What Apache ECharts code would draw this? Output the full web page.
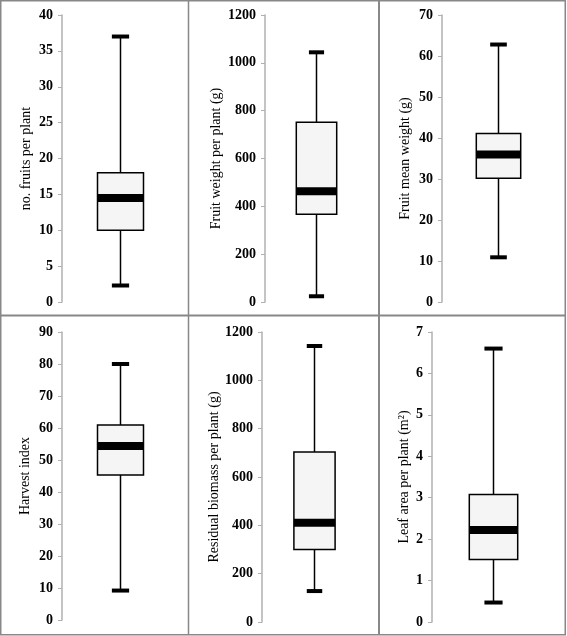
<!DOCTYPE html>
<html>
<head>
<meta charset="utf-8">
<script src="https://cdn.jsdelivr.net/npm/echarts@6/dist/echarts.min.js"></script>
<style>
html,body{margin:0;padding:0;background:#fff;}
#c{width:567px;height:636px;}
</style>
</head>
<body>
<div id="c"></div>
<script>
// Panel titles (y-axis names)
const titles = ["no. fruits per plant", "Fruit weight per plant (g)", "Fruit mean weight (g)",
                "Harvest index", "Residual biomass per plant (g)", "Leaf area per plant (m\u00B2)"];
// Box statistics: [min, Q1, median, Q3, max]
const fruitsPerPlant   = [2.3, 10, 14.5, 18, 37];
const fruitWeight      = [24, 367, 463, 752, 1044];
const fruitMeanWeight  = [10.9, 30.2, 36, 41.1, 62.8];
const harvestIndex     = [9.2, 45.3, 54.4, 60.9, 80];
const residualBiomass  = [128, 300, 411, 703, 1142];
const leafArea         = [0.47, 1.51, 2.22, 3.08, 6.6];
// Axis ranges: [max, interval]
const axisMax      = [40, 1200, 70, 90, 1200, 7];
const axisInterval = [5, 200, 10, 10, 200, 1];

const stats = [fruitsPerPlant, fruitWeight, fruitMeanWeight, harvestIndex, residualBiomass, leafArea];

const grids = [
  {left: 62,  top: 15,  width: 115, height: 287},
  {left: 265, top: 15,  width: 101, height: 287},
  {left: 442, top: 15,  width: 111, height: 287},
  {left: 62,  top: 332, width: 115, height: 288},
  {left: 262, top: 332, width: 103, height: 290},
  {left: 432, top: 332, width: 121, height: 290}
];
const nameGaps = [29, 42, 30, 30, 40, 21];
const serif = '"Liberation Serif", "Times New Roman", serif';

function renderBox(params, api) {
  const mn = api.coord([0, api.value(1)]);
  const q1 = api.coord([0, api.value(2)]);
  const md = api.coord([0, api.value(3)]);
  const q3 = api.coord([0, api.value(4)]);
  const mx = api.coord([0, api.value(5)]);
  const band = api.size([1, 0])[0];
  const cx = Math.round(mn[0]) + 0.5;
  const bw = band * 0.4;
  const cw = band * 0.15;
  const lineStyle = {stroke: '#000', lineWidth: 1.5, fill: null};
  return {
    type: 'group',
    children: [
      {type: 'line', shape: {x1: cx, y1: mx[1], x2: cx, y2: q3[1]}, style: lineStyle},
      {type: 'line', shape: {x1: cx, y1: q1[1], x2: cx, y2: mn[1]}, style: lineStyle},
      {type: 'rect', shape: {x: cx - bw / 2, y: q3[1], width: bw, height: q1[1] - q3[1]},
        style: {fill: '#f5f5f5', stroke: '#000', lineWidth: 1.5}},
      {type: 'rect', shape: {x: cx - bw / 2, y: md[1] - 4, width: bw, height: 8},
        style: {fill: '#000'}},
      {type: 'rect', shape: {x: cx - cw / 2, y: mx[1] - 2, width: cw, height: 4}, style: {fill: '#000'}},
      {type: 'rect', shape: {x: cx - cw / 2, y: mn[1] - 2, width: cw, height: 4}, style: {fill: '#000'}}
    ]
  };
}

const option = {
  animation: false,
  backgroundColor: '#fff',
  grid: grids.map(g => Object.assign({containLabel: false}, g)),
  xAxis: grids.map((g, i) => ({
    type: 'category', gridIndex: i, data: ['a'],
    axisLine: {show: false}, axisTick: {show: false}, axisLabel: {show: false}, splitLine: {show: false}
  })),
  yAxis: grids.map((g, i) => ({
    type: 'value', gridIndex: i, min: 0, max: axisMax[i], interval: axisInterval[i],
    name: titles[i], nameLocation: 'middle', nameGap: nameGaps[i],
    nameTextStyle: {fontFamily: serif, fontSize: 14, color: '#000'},
    axisLine: {show: true, lineStyle: {color: '#b0b0b0', width: 1.5}},
    axisTick: {show: true, length: 4, lineStyle: {color: '#b0b0b0'}},
    axisLabel: {fontFamily: serif, fontSize: 14, fontWeight: 'bold', color: '#000', margin: 9,
      formatter: v => String(v)},
    splitLine: {show: false}
  })),
  series: stats.map((s, i) => ({
    type: 'custom', xAxisIndex: i, yAxisIndex: i,
    renderItem: renderBox,
    encode: {x: 0, y: [1, 2, 3, 4, 5]},
    data: [[0].concat(s)]
  })),
  graphic: [
    {type: 'rect', shape: {x: 0.75, y: 0.75, width: 564.5, height: 634}, style: {fill: null, stroke: '#888', lineWidth: 1.5}, silent: true},
    {type: 'line', shape: {x1: 188.5, y1: 0, x2: 188.5, y2: 635}, style: {stroke: '#888', lineWidth: 1.5}, silent: true},
    {type: 'line', shape: {x1: 379, y1: 0, x2: 379, y2: 635}, style: {stroke: '#888', lineWidth: 2}, silent: true},
    {type: 'line', shape: {x1: 0, y1: 315.5, x2: 566, y2: 315.5}, style: {stroke: '#888', lineWidth: 2}, silent: true}
  ]
};

const chart = echarts.init(document.getElementById('c'), null, {renderer: 'canvas'});
chart.setOption(option);
</script>
</body>
</html>
